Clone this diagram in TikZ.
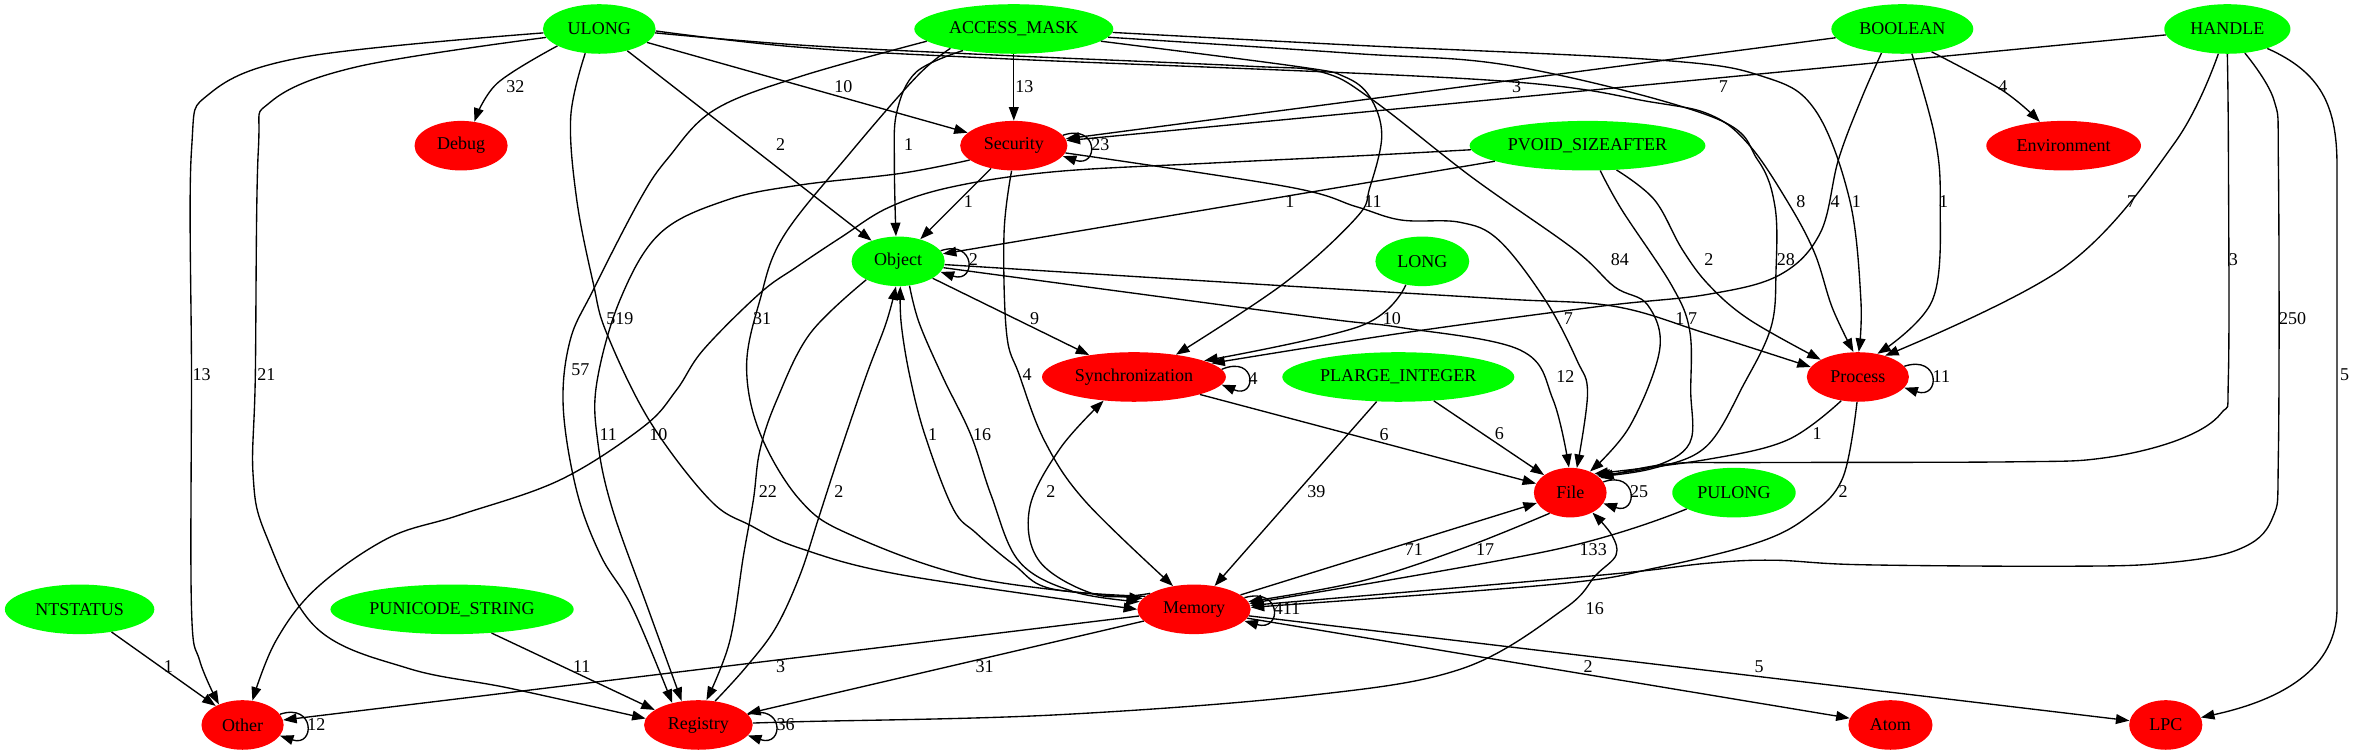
\documentclass[tikz,border=0pt]{standalone}
\usepackage{fontspec}
\setmainfont{Liberation Serif}
\usetikzlibrary{shapes.geometric,arrows.meta}
\definecolor{gvg}{RGB}{0,255,0}
\definecolor{gvr}{RGB}{255,0,0}
\begin{document}
\begin{tikzpicture}[x=1pt,y=-1pt,
  gn/.style={ellipse,fill=gvg,inner sep=0pt,minimum height=33pt,font=\fontsize{12}{14}\selectfont},
  rn/.style={ellipse,fill=gvr,inner sep=0pt,minimum height=33pt,font=\fontsize{12}{14}\selectfont},
  edg/.style={line width=0.9pt,-{Triangle[length=9pt,width=6.5pt]}},
  lab/.style={inner sep=0pt,font=\fontsize{12}{14}\selectfont},
  smo/.style={smooth,tension=0.6}]
\useasboundingbox (0,0) rectangle (1568,502.7);
% nodes
\node[gn,minimum width=75pt]   (ul)  at (399,19.3)    {ULONG};
\node[gn,minimum width=132.5pt](am)  at (675,19.3)    {ACCESS\_MASK};
\node[gn,minimum width=94.5pt] (bo)  at (1266.6,19.3) {BOOLEAN};
\node[gn,minimum width=84pt]   (ha)  at (1483,19.3)   {HANDLE};
\node[rn,minimum width=62pt]   (dbg) at (307,97)      {Debug};
\node[rn,minimum width=71.4pt] (sec) at (675,97)      {Security};
\node[gn,minimum width=157pt]  (pv)  at (1057,97)     {PVOID\_SIZEAFTER};
\node[rn,minimum width=103pt]  (env) at (1374,97)     {Environment};
\node[gn,minimum width=62pt]   (obj) at (598,174)     {Object};
\node[gn,minimum width=62.5pt] (lo)  at (947,174)     {LONG};
\node[rn,minimum width=122.4pt](syn) at (755,251)     {Synchronization};
\node[gn,minimum width=154.5pt](pl)  at (931,251)     {PLARGE\_INTEGER};
\node[rn,minimum width=68pt]   (proc)at (1237,251)    {Process};
\node[rn,minimum width=48.4pt] (file)at (1045.5,328)  {File};
\node[gn,minimum width=82.2pt] (pul) at (1154.5,328)  {PULONG};
\node[rn,minimum width=75.4pt] (mem) at (795,405.7)   {Memory};
\node[gn,minimum width=99.5pt] (nt)  at (53,405.7)    {NTSTATUS};
\node[gn,minimum width=162pt]  (pu)  at (301,405.7)   {PUNICODE\_STRING};
\node[rn,minimum width=54.7pt] (oth) at (161.5,482.7) {Other};
\node[rn,minimum width=72.3pt] (reg) at (465,482.7)   {Registry};
\node[rn,minimum width=56pt]   (atom)at (1258.7,482.7){Atom};
\node[rn,minimum width=48.7pt] (lpc) at (1442,482.7)  {LPC};
% ULONG
\draw[edg] plot[smo] coordinates {(ul.202) (331,55.5) (dbg.61)};
\draw[edg] plot[smo] coordinates {(ul.184) (204,37.7) (140,62) (127.5,100) (127.5,250) (127.5,405) (133,440) (oth.139)};
\draw[edg] plot[smo] coordinates {(ul.189) (238,44.4) (180,68) (172,100) (170,250) (168.5,316) (177,356) (210.6,418) (271.8,445) (339.7,458.3) (reg.173)};
\draw[edg] plot[smo] coordinates {(ul.240) (380,77.7) (384,133) (395,188.6) (404,222) (432.8,280.7) (472.7,332.9) (500,350) (532.6,365) (600.5,382.8) (mem.180)};
\draw[edg] (ul) -- (obj);
\draw[edg] (ul) -- (sec);
\draw[edg] plot[smo] coordinates {(ul.356) (532.6,30) (665.8,36.8) (830,44) (880,48) (914,66.6) (980,118) (1048,166) (1075,191) (1097,203) (1105,233) (1085,284) (file.47)};
\draw[edg] plot[smo] coordinates {(ul.358) (532.6,31.5) (665.8,39) (990.7,53.3) (1100,68) (1140,77) (1165,97) (1190,134) (1208,168) (1220,205) (proc.100)};
% ACCESS_MASK
\draw[edg] (am) -- (sec);
\draw[edg] plot[smo] coordinates {(am.203) (610,48) (597,75) (595.5,110) (obj.95)};
\draw[edg] plot[smo] coordinates {(am.188) (532.6,51) (475.6,73.2) (445,105) (426,133) (395,193) (379.5,227) (375,271) (384,327) (400,370) (421.2,405) (reg.140)};
\draw[edg] plot[smo] coordinates {(am.197) (610.3,51) (565.9,102) (521.5,157.6) (506,199.7) (497.1,244) (506,288.4) (532.6,332.9) (566.6,356.2) (650,385) (mem.168)};
\draw[edg] plot[smo] coordinates {(am.352) (864.5,44.4) (895,51) (912,64.4) (920,90) (912,125) (903,145) (855,188.6) (syn.28)};
\draw[edg] plot[smo] coordinates {(am.358) (900,30) (1105,40) (1174,51) (1208.5,73.2) (1231.5,133) (1239,199.7) (proc.88)};
\draw[edg] plot[smo] coordinates {(am.355) (900,35.5) (1009.8,44.4) (1139.7,77.7) (1170.3,106.5) (1181.8,137.6) (1182.5,180) (1179.3,217.4) (1161.4,255.2) (1136,297.3) (1100,312) (file.30)};
% BOOLEAN
\draw[edg] (bo) -- (sec);
\draw[edg] plot[smo] coordinates {(bo.322) (1333,60) (env.135)};
\draw[edg] plot[smo] coordinates {(bo.291) (1288,90) (1291.8,133) (1286.7,199.7) (proc.50)};
\draw[edg] plot[smo] coordinates {(bo.229) (1239,66.6) (1224,106.5) (1212,155) (1185,183) (1137,196) (1065,204) (932,222) (syn.10)};
% HANDLE
\draw[edg] (ha) -- (sec);
\draw[edg] plot[smo] coordinates {(ha.250) (1448,95) (1375,177.5) (proc.38)};
\draw[edg] plot[smo] coordinates {(ha.270) (1483.7,100) (1483.7,250) (1479,275) (1450,293) (1400,305) (1340,307.5) (1170,308) (1110,309) (file.26)};
\draw[edg] plot[smo] coordinates {(ha.306) (1514,66.6) (1517,111) (1517,300) (1513,345) (1490,366) (1440,375) (1375,377) (1239,376) (1181,373) (1137,375) (1065,383) (mem.4)};
\draw[edg] (ha.334) .. controls (1545,48) and (1556,70) .. (1556,110) -- (1556,405)
   .. controls (1556,450) and (1510,468) .. (lpc.12);
% PVOID_SIZEAFTER
\draw[edg] (pv) -- (obj);
\draw[edg] plot[smo] coordinates {(pv.182) (900,104) (804,108.7) (702.5,114.3) (634.5,124.3) (592,138) (560,158) (530,178) (505.9,195.3) (468.2,233) (450.4,259.7) (428.3,284.2) (372.8,319.6) (305.7,343) (258.2,358.4) (210.6,391.7) (183.4,427.2) (oth.68)};
\draw[edg] plot[smo] coordinates {(pv.297) (1080,140) (1113,190) (1125,220) (1125.7,260) (1125,295) (1100,311) (file.34)};
\draw[edg] plot[smo] coordinates {(pv.320) (1101.5,133) (1120,166) (1138,190) (1165,213) (proc.155)};
% Object
\draw[edg] (obj) -- (syn);
\draw[edg] plot[smo] coordinates {(obj.356) (850,190) (1000,199) (1075,204) (1136,222) (proc.168)};
\draw[edg] plot[smo] coordinates {(obj.352) (872,210.8) (932,218) (1012,233) (1034,266) (file.93)};
\draw[edg] plot[smo] coordinates {(obj.210) (539.4,222) (517.2,266.3) (506,299.6) (501.6,332.9) (495,370) (485.8,427.2) (reg.72)};
\draw[edg] plot[smo] coordinates {(obj.295) (612,215) (627.7,251) (646.4,289.6) (660,330) (678.7,374) (715,394) (mem.172)};
% Registry
\draw[edg] plot[smo] coordinates {(reg.55) (496,445) (516.3,418.3) (532.6,383) (545,345) (558,305) (576.8,250) (590,215) (obj.265)};
\draw[edg] plot[smo] coordinates {(reg.2) (532.6,480.5) (702.5,476) (872,463) (974,445) (1042,405) (1062.5,383) (1076,369.5) (1073,356) (file.318)};
% Security
\draw[edg] (sec) -- (obj);
\draw[edg] plot[smo] coordinates {(sec.352) (857,124.3) (903,137.6) (933,146.5) (972,148) (998,160) (1029,200) (1050,240) (1057,262) (file.75)};
\draw[edg] plot[smo] coordinates {(sec.198) (600,115.4) (532.6,123.2) (483.9,133.2) (439.5,155.3) (412.8,199.7) (397.3,255.2) (398,294) (407.6,338.5) (431.4,405) (reg.125)};
\draw[edg] plot[smo] coordinates {(sec.265) (668.5,155.3) (670.2,222) (678.7,249.7) (695.7,294) (722.8,334) (mem.132)};
% others
\draw[edg] (syn) -- (file);
\draw[edg] plot[smo] coordinates {(lo.235) (906,217) (syn.13)};
\draw[edg] (pl) -- (mem);
\draw[edg] (pl) -- (file);
\draw[edg] plot[smo] coordinates {(proc.235) (1190,293) (1136,306) (file.38)};
\draw[edg] plot[smo] coordinates {(proc.268) (1227,318) (1205,343) (1171,361) (1103,378) (1035,389) (mem.2)};
\draw[edg] plot[smo] coordinates {(file.225) (974,365) (906,387) (mem.8)};
\draw[edg] plot[smo] coordinates {(pul.199) (1035,366) (mem.6)};
\draw[edg] (mem) -- (file);
\draw[edg] plot[smo] coordinates {(mem.165) (700,392) (675.3,376.2) (650,355) (634.5,338.5) (615.8,289.6) (605.6,249.7) (600,215) (obj.275)};
\draw[edg] plot[smo] coordinates {(mem.160) (730,396) (692.3,374) (685.5,338.5) (705.9,298.5) (syn.218)};
\draw[edg] (mem) -- (oth);
\draw[edg] (mem) -- (reg);
\draw[edg] (mem) -- (atom);
\draw[edg] (mem) -- (lpc);
\draw[edg] (nt) -- (oth);
\draw[edg] (pu.329) -- (reg.161);
% self loops
\draw[edg] (sec.12) .. controls (731.7,82) and (731.7,112) .. (sec.-12);
\draw[edg] (obj.14) .. controls (650,159) and (650,189) .. (obj.-14);
\draw[edg] (syn.5) .. controls (837,236) and (837,266) .. (syn.-5);
\draw[edg] (proc.13) .. controls (1292,236) and (1292,266) .. (proc.-13);
\draw[edg] (file.18) .. controls (1090.7,313) and (1090.7,343) .. (file.-18);
\draw[edg] (mem.13) .. controls (853.7,390.7) and (853.7,420.7) .. (mem.-13);
\draw[edg] (oth.16) .. controls (209.9,467.7) and (209.9,497.7) .. (oth.-16);
\draw[edg] (reg.12) .. controls (522.2,467.7) and (522.2,497.7) .. (reg.-12);
% edge labels
\node[lab] (lb01) at (343.1,57.7) {32};
\node[lab] (lb02) at (561.5,57.7) {10};
\node[lab] (lb03) at (682.1,57.7) {13};
\node[lab] (lb04) at (1009.8,57.7) {3};
\node[lab] (lb05) at (1147.4,57.7) {7};
\node[lab] (lb06) at (1333.6,57.7) {4};
\node[lab] (lb07) at (732.7,96.5) {23};
\node[lab] (lb08) at (519.7,96.5) {2};
\node[lab] (lb09) at (605,96.5) {1};
\node[lab] (lb10) at (644.7,134.3) {1};
\node[lab] (lb11) at (858.8,134.3) {1};
\node[lab] (lb12) at (914.2,134.3) {11};
\node[lab] (lb13) at (1199,134.3) {8};
\node[lab] (lb14) at (1221.9,134.3) {4};
\node[lab] (lb15) at (1236,134.3) {1};
\node[lab] (lb16) at (1294.1,134.3) {1};
\node[lab] (lb17) at (1419.2,134.3) {7};
\node[lab] (lb18) at (648.1,173.1) {2};
\node[lab] (lb19) at (1078.6,173.1) {84};
\node[lab] (lb20) at (1137.8,173.1) {2};
\node[lab] (lb21) at (1189,173.1) {28};
\node[lab] (lb22) at (1487,173.1) {3};
\node[lab] (lb23) at (412.7,211.9) {519};
\node[lab] (lb24) at (507.5,211.9) {31};
\node[lab] (lb25) at (688.9,211.9) {9};
\node[lab] (lb26) at (926.7,211.9) {10};
\node[lab] (lb27) at (1044.2,211.9) {7};
\node[lab] (lb28) at (1118.4,211.9) {1};
\node[lab] (lb29) at (1127,211.9) {7};
\node[lab] (lb30) at (1526.5,211.9) {250};
\node[lab] (lb31) at (386.5,246) {57};
\node[lab] (lb32) at (134.2,249.6) {13};
\node[lab] (lb33) at (177.3,249.6) {21};
\node[lab] (lb34) at (683.8,249.6) {4};
\node[lab] (lb35) at (834.3,251.9) {4};
\node[lab] (lb36) at (1042.2,250.7) {12};
\node[lab] (lb37) at (1292.6,250.7) {11};
\node[lab] (lb38) at (1561,249.6) {5};
\node[lab] (lb39) at (405,289.2) {11};
\node[lab] (lb40) at (438.3,289.4) {10};
\node[lab] (lb41) at (620.9,289.2) {1};
\node[lab] (lb42) at (653.9,289.2) {16};
\node[lab] (lb43) at (921.5,289.2) {6};
\node[lab] (lb44) at (998.3,288.4) {6};
\node[lab] (lb45) at (1209.8,288.4) {1};
\node[lab] (lb46) at (511.3,327.4) {22};
\node[lab] (lb47) at (558.6,327.4) {2};
\node[lab] (lb48) at (699.7,327.4) {2};
\node[lab] (lb49) at (876.4,327.4) {39};
\node[lab] (lb50) at (1091.3,327.3) {25};
\node[lab] (lb51) at (1227.2,327.3) {2};
\node[lab] (lb52) at (941.3,366.2) {71};
\node[lab] (lb53) at (988.8,366.2) {17};
\node[lab] (lb54) at (1060.8,366.2) {133};
\node[lab] (lb55) at (857,405) {411};
\node[lab] (lb56) at (1061.8,405) {16};
\node[lab] (lb57) at (112.1,443.9) {1};
\node[lab] (lb58) at (387.3,443.9) {11};
\node[lab] (lb59) at (519.7,443.9) {3};
\node[lab] (lb60) at (655.6,443.9) {31};
\node[lab] (lb61) at (1057.4,443.9) {2};
\node[lab] (lb62) at (1171.2,443.9) {5};
\node[lab] (lb63) at (210.6,482.7) {12};
\node[lab] (lb64) at (523.1,482.7) {36};
\end{tikzpicture}
\end{document}
